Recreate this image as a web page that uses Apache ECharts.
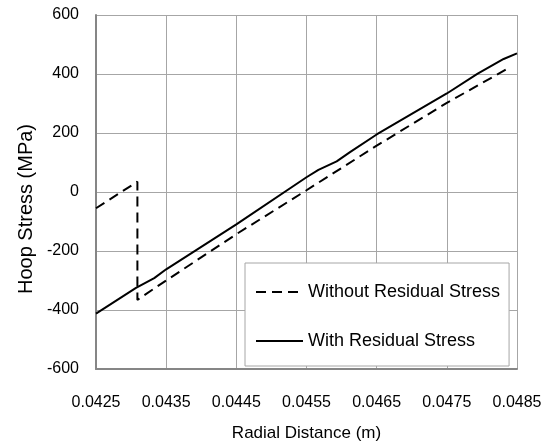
<!DOCTYPE html>
<html>
<head>
<meta charset="utf-8">
<script src="https://cdn.jsdelivr.net/npm/echarts@6/dist/echarts.min.js"></script>
<style>html,body{margin:0;padding:0;background:#fff;}#c{width:544px;height:445px;}</style>
</head>
<body>
<div id="c"></div>
<script>
// Radial distance (m) and hoop stress (MPa)
var xWithout = [0.0425, 0.04309, 0.04309, 0.04333, 0.0435, 0.0445, 0.0455, 0.0465, 0.0475, 0.0484];
var yWithout = [-55, 35, -366, -327, -300, -143, 6, 157, 302, 423];
var xWith = [0.0425, 0.04307, 0.04333, 0.0435, 0.0445, 0.0455, 0.04567, 0.04593, 0.04612, 0.0465, 0.0475, 0.04794, 0.04831, 0.0485];
var yWith = [-412, -325, -292, -262, -110, 50, 75, 104, 135, 195, 334, 401, 451, 470];
var seriesNames = ['Without Residual Stress', 'With Residual Stress'];
var xTitle = 'Radial Distance (m)';
var yTitle = 'Hoop Stress (MPa)';

function pairs(xs, ys) { return xs.map(function (x, i) { return [x, ys[i]]; }); }

var FONT = 'Liberation Sans';
var chart = echarts.init(document.getElementById('c'), null, { renderer: 'canvas' });
chart.setOption({
  animation: false,
  backgroundColor: '#fff',
  grid: { left: 96, right: 27, top: 15, bottom: 76, containLabel: false, outerBoundsMode: 'none' },
  xAxis: {
    type: 'value', min: 0.0425, max: 0.0485, interval: 0.001,
    name: xTitle, nameLocation: 'middle', nameGap: 56,
    nameTextStyle: { fontFamily: FONT, fontSize: 17, color: '#000' },
    axisLine: { show: true, onZero: false, lineStyle: { color: '#868686', width: 2 } },
    axisTick: { show: false },
    axisLabel: { fontFamily: FONT, fontSize: 16, color: '#000', margin: 26,
      formatter: function (v) { return v.toFixed(4); } },
    splitLine: { show: true, lineStyle: { color: '#a6a6a6', width: 1 } }
  },
  yAxis: {
    type: 'value', min: -600, max: 600, interval: 200,
    name: yTitle, nameLocation: 'middle', nameGap: 60,
    nameTextStyle: { fontFamily: FONT, fontSize: 20, color: '#000', padding: [0, 34, 0, 0] },
    axisLine: { show: true, onZero: false, lineStyle: { color: '#868686', width: 2 } },
    axisTick: { show: false },
    axisLabel: { fontFamily: FONT, fontSize: 16, color: '#000', margin: 17 },
    splitLine: { show: true, lineStyle: { color: '#a6a6a6', width: 1 } }
  },
  legend: {
    orient: 'vertical', left: 245, top: 263,
    padding: [20, 9, 16, 10], itemGap: 31, itemWidth: 47, itemHeight: 14,
    borderColor: '#a6a6a6', borderWidth: 1, backgroundColor: '#fff',
    itemStyle: { opacity: 0 },
    textStyle: { fontFamily: FONT, fontSize: 18, color: '#000', padding: [0, 0, 0, 0] },
    data: seriesNames
  },
  series: [
    { name: seriesNames[0], type: 'line', data: pairs(xWithout, yWithout), symbol: 'none',
      lineStyle: { color: '#000', width: 2, type: [10, 6] }, itemStyle: { color: '#000' } },
    { name: seriesNames[1], type: 'line', data: pairs(xWith, yWith), symbol: 'none',
      lineStyle: { color: '#000', width: 2, type: 'solid' }, itemStyle: { color: '#000' } }
  ]
});
</script>
</body>
</html>
